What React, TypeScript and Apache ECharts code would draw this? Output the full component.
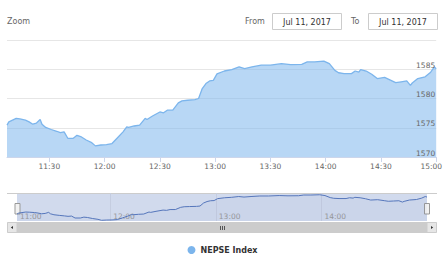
import React, { useEffect, useRef } from "react";
import * as echarts from "echarts";

const times = [
  "11:07","11:08","11:12","11:14","11:17","11:19","11:21","11:23","11:25","11:26","11:28",
  "11:31","11:34","11:36","11:38","11:40","11:43","11:45","11:47","11:50","11:53","11:55","11:58",
  "12:01","12:04","12:07","12:10","12:12","12:13","12:16","12:19","12:22","12:23","12:26","12:30",
  "12:32","12:34","12:37","12:40","12:42","12:45","12:49","12:51","12:53","12:55","12:57","12:59",
  "13:01","13:05","13:09","13:13","13:16","13:20","13:25","13:30","13:36","13:41","13:47","13:50",
  "13:54","13:59","14:02","14:05","14:07","14:10","14:14","14:16","14:18","14:19","14:22","14:25",
  "14:28","14:32","14:36","14:38","14:41","14:44","14:46","14:47","14:50","14:54","14:57","14:59","15:00"
];
const values = [
  1575.45,1576.0,1576.6,1576.5,1576.3,1576.0,1575.6,1575.8,1576.4,1575.6,1575.05,
  1574.7,1574.4,1574.15,1574.3,1573.2,1573.2,1573.7,1573.5,1572.9,1572.45,1571.9,1572.05,
  1572.1,1572.3,1573.3,1574.3,1575.15,1575.05,1575.3,1575.45,1576.6,1576.4,1577.0,1577.7,
  1577.55,1578.0,1578.0,1579.25,1579.6,1579.7,1579.8,1580.0,1581.7,1582.55,1583.0,1583.1,
  1584.2,1584.7,1584.95,1585.4,1585.1,1585.4,1585.7,1585.7,1585.95,1585.8,1585.85,1586.25,
  1586.25,1586.4,1585.95,1584.8,1584.4,1584.25,1584.25,1584.7,1584.5,1584.95,1584.7,1584.15,
  1583.4,1583.6,1583.0,1582.7,1582.85,1583.0,1582.25,1582.65,1583.4,1583.7,1584.5,1585.4,1585.1
];
const xTickLabels = ["11:30","12:00","12:30","13:00","13:30","14:00","14:30","15:00"];
const navTickLabels = ["12:00","13:00","14:00"];
const yTicks = [1570, 1575, 1580, 1585, 1590];
const seriesName = "NEPSE Index";
const fromDate = "Jul 11, 2017";
const toDate = "Jul 11, 2017";

const toMin = (s: string) => {
  const [h, m] = s.split(":").map(Number);
  return h * 60 + m;
};
const fmt = (v: number) => {
  const h = Math.floor(v / 60);
  const m = Math.round(v - h * 60);
  return `${h}:${m < 10 ? "0" + m : m}`;
};

const FONT = "DejaVu Sans";

export default function App() {
  const ref = useRef<HTMLDivElement>(null);
  useEffect(() => {
    if (!ref.current) return;
    const chart = echarts.init(ref.current, null, { renderer: "svg" });
    const data = times.map((t, i) => [toMin(t), values[i]]);
    const xMin = toMin(times[0]);
    const xMax = toMin(times[times.length - 1]);
    const xCustom = xTickLabels.map(toMin);
    const navCustom = navTickLabels.map(toMin);
    const lastLabel = xCustom[xCustom.length - 1];

    chart.setOption({
      animation: false,
      backgroundColor: "#ffffff",
      textStyle: { fontFamily: FONT },
      grid: [
        { left: 7, top: 40, width: 430, height: 117 },
        {
          left: 17, top: 193, width: 410, height: 28, show: true,
          backgroundColor: "rgba(102,133,194,0.3)", borderWidth: 0,
        },
      ],
      xAxis: [
        {
          type: "value", gridIndex: 0, min: xMin, max: xMax,
          axisLine: { show: true, lineStyle: { color: "#ccd6eb", width: 1 } },
          axisTick: { show: true, customValues: xCustom, length: 5, lineStyle: { color: "#ccd6eb" } },
          splitLine: { show: false },
          axisLabel: {
            customValues: xCustom,
            color: "#666666", fontSize: 7.5, fontFamily: FONT, margin: 5,
            formatter: (v: number) => (v === lastLabel ? `{e|${fmt(v)}}` : fmt(v)),
            rich: { e: { padding: [0, 10, 0, 0], color: "#666666", fontSize: 7.5, fontFamily: FONT } },
          },
        },
        {
          type: "value", gridIndex: 1, min: xMin, max: xMax,
          axisLine: { show: false },
          axisTick: { show: false, customValues: navCustom },
          splitLine: { show: true, lineStyle: { color: "#c5cde0", width: 1 } },
          axisLabel: {
            customValues: [xMin, ...navCustom],
            inside: true, margin: 1, align: "left",
            padding: [0, 0, 0, 3],
            color: "#999999", fontSize: 7.5, fontFamily: FONT,
            formatter: (v: number) => fmt(Math.floor(v / 60) * 60),
          },
        },
      ],
      yAxis: [
        {
          type: "value", gridIndex: 0, position: "right", min: 1570, max: 1590, interval: 5,
          axisLine: { show: false }, axisTick: { show: false },
          splitLine: { show: true, lineStyle: { color: "#e6e6e6", width: 1 } },
          axisLabel: { show: false },
        },
        {
          type: "value", gridIndex: 0, position: "right", min: yTicks[0], max: yTicks[yTicks.length - 1], interval: 5,
          z: 5,
          axisLine: { show: false }, axisTick: { show: false }, splitLine: { show: false },
          axisLabel: {
            inside: true, margin: 1, verticalAlign: "bottom", showMaxLabel: false,
            color: "#666666", fontSize: 7.5, fontFamily: FONT,
            formatter: (v: number) => String(v),
          },
        },
        {
          type: "value", gridIndex: 1, min: 1571.5, max: 1587.4,
          axisLine: { show: false }, axisTick: { show: false },
          splitLine: { show: false }, axisLabel: { show: false },
        },
      ],
      legend: {
        show: true, left: "center", top: 246, padding: 0,
        icon: "circle", itemWidth: 8, itemHeight: 8,
        textStyle: { fontSize: 8, fontWeight: "bold", color: "#333333", fontFamily: FONT },
        data: [seriesName],
      },
      series: [
        {
          name: seriesName, type: "line", xAxisIndex: 0, yAxisIndex: 0,
          data, showSymbol: false, symbol: "none", z: 2,
          color: "#7cb5ec",
          lineStyle: { color: "#7cb5ec", width: 1.3 },
          areaStyle: { color: "rgba(124,181,236,0.78)", origin: "start" },
        },
        {
          name: "nav", type: "line", xAxisIndex: 1, yAxisIndex: 2,
          data, showSymbol: false, symbol: "none",
          lineStyle: { color: "#5576bb", width: 1 },
          areaStyle: { color: "rgba(51,92,173,0.05)", origin: "start" },
        },
      ],
      graphic: [
        { type: "text", left: 7, top: 17, style: { text: "Zoom", fill: "#666666", font: `8px '${FONT}'` } },
        { type: "text", left: 245, top: 17, style: { text: "From", fill: "#666666", font: `8px '${FONT}'` } },
        { type: "rect", shape: { x: 272.5, y: 13.5, width: 69, height: 16 }, style: { fill: "#ffffff", stroke: "#cccccc", lineWidth: 1 } },
        { type: "text", x: 307, y: 22, style: { text: fromDate, fill: "#333333", font: `8px '${FONT}'`, align: "center", verticalAlign: "middle" } },
        { type: "text", left: 351, top: 17, style: { text: "To", fill: "#666666", font: `8px '${FONT}'` } },
        { type: "rect", shape: { x: 368.5, y: 13.5, width: 69, height: 16 }, style: { fill: "#ffffff", stroke: "#cccccc", lineWidth: 1 } },
        { type: "text", x: 403, y: 22, style: { text: toDate, fill: "#333333", font: `8px '${FONT}'`, align: "center", verticalAlign: "middle" } },
        // navigator outline
        { type: "line", shape: { x1: 7, y1: 193.5, x2: 437, y2: 193.5 }, style: { stroke: "#cccccc", lineWidth: 1 } },
        // scrollbar
        { type: "rect", shape: { x: 7, y: 222, width: 430, height: 11 }, style: { fill: "#f2f2f2" } },
        { type: "rect", shape: { x: 17, y: 222, width: 410, height: 11 }, style: { fill: "#cccccc" } },
        { type: "rect", shape: { x: 7.5, y: 222.5, width: 9.5, height: 10 }, style: { fill: "#e6e6e6", stroke: "#cccccc", lineWidth: 1 } },
        { type: "rect", shape: { x: 427, y: 222.5, width: 9.5, height: 10 }, style: { fill: "#e6e6e6", stroke: "#cccccc", lineWidth: 1 } },
        { type: "polygon", shape: { points: [[10.8, 227.5], [13, 226], [13, 229]] }, style: { fill: "#333333" } },
        { type: "polygon", shape: { points: [[433.2, 227.5], [431, 226], [431, 229]] }, style: { fill: "#333333" } },
        { type: "line", shape: { x1: 220.5, y1: 226, x2: 220.5, y2: 230 }, style: { stroke: "#555555", lineWidth: 1 } },
        { type: "line", shape: { x1: 222.5, y1: 226, x2: 222.5, y2: 230 }, style: { stroke: "#555555", lineWidth: 1 } },
        { type: "line", shape: { x1: 224.5, y1: 226, x2: 224.5, y2: 230 }, style: { stroke: "#555555", lineWidth: 1 } },
        // handles
        { type: "rect", shape: { x: 15, y: 203.5, width: 5, height: 10.5 }, style: { fill: "#f2f2f2", stroke: "#999999", lineWidth: 1 } },
        { type: "rect", shape: { x: 424.5, y: 203.5, width: 5, height: 10.5 }, style: { fill: "#f2f2f2", stroke: "#999999", lineWidth: 1 } },
      ],
    });
    return () => chart.dispose();
  }, []);
  return (
    <div
      ref={ref}
      style={{ position: "fixed", left: 0, top: 0, width: 445, height: 256 }}
    />
  );
}
